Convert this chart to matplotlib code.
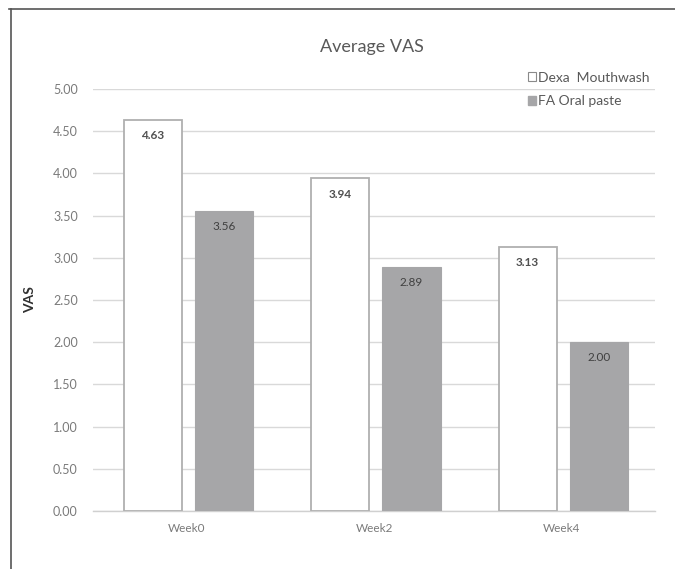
import matplotlib
matplotlib.use("Agg")
import matplotlib.pyplot as plt
from matplotlib.patches import Patch
from matplotlib.lines import Line2D
import numpy as np

categories = ["Week0", "Week2", "Week4"]
dexa_values = [4.63, 3.94, 3.13]
fa_values = [3.56, 2.89, 2.00]
series_names = ["Dexa  Mouthwash", "FA Oral paste"]
y_ticks = [0.0, 0.5, 1.0, 1.5, 2.0, 2.5, 3.0, 3.5, 4.0, 4.5, 5.0]

plt.rcParams["font.family"] = ["Lato", "DejaVu Sans"]

W, H = 675, 569
fig = plt.figure(figsize=(W / 100, H / 100), dpi=100)
fig.patch.set_facecolor("white")

ax = fig.add_axes([93 / W, 1 - 511 / H, (655 - 93) / W, (511 - 89) / H])
ax.set_facecolor("white")

x = np.arange(len(categories))
bw = 0.31
text_col = "#595959"
edge_col = "#b0b0b0"
gray_fill = "#a6a6a8"

ax.bar(x - 0.18, dexa_values, bw, color="white", edgecolor=edge_col, linewidth=1.3, zorder=3)
ax.bar(x + 0.20, fa_values, bw, color=gray_fill, edgecolor=gray_fill, linewidth=0.8, zorder=3)

for xi, v in zip(x - 0.18, dexa_values):
    ax.text(xi, v - 0.12, f"{v:.2f}", ha="center", va="top", fontsize=8.5,
            fontweight="bold", color="#505050", zorder=4)
for xi, v in zip(x + 0.20, fa_values):
    ax.text(xi, v - 0.12, f"{v:.2f}", ha="center", va="top", fontsize=8.5,
            color="#404040", zorder=4)

ax.set_xlim(-0.5, 2.5)
ax.set_ylim(0, 5.0)
ax.set_yticks(y_ticks)
ax.set_yticklabels([f"{t:.2f}" for t in y_ticks], fontsize=9, color="#7a7a7a")
ax.set_xticks(x)
ax.set_xticklabels(categories, fontsize=8.5, color="#7a7a7a")
ax.tick_params(axis="both", length=0)
ax.tick_params(axis="y", pad=11)
ax.tick_params(axis="x", pad=9)

ax.grid(axis="y", color="#d9d9d9", linewidth=1.0, zorder=0)
for s in ["top", "right", "left"]:
    ax.spines[s].set_visible(False)
ax.spines["bottom"].set_color("#d0d0d0")
ax.spines["bottom"].set_linewidth(1.0)

ax.set_ylabel("VAS", fontsize=10, fontweight="bold", color="#303030", labelpad=12)

fig.text(372 / W, 1 - 47 / H, "Average VAS", ha="center", va="center",
         fontsize=13, color=text_col)

handles = [
    Patch(facecolor="white", edgecolor="#8a8a8a", linewidth=0.8),
    Patch(facecolor=gray_fill, edgecolor=gray_fill),
]
leg = ax.legend(handles, series_names, loc="upper right",
                bbox_to_anchor=(655 / W, 1 - 66 / H), bbox_transform=fig.transFigure,
                frameon=False, fontsize=10, handlelength=0.6, handleheight=0.6,
                handletextpad=0.15, labelspacing=0.85, borderaxespad=0)
for t in leg.get_texts():
    t.set_color(text_col)

# outer frame lines
fig.add_artist(Line2D([9 / W, 1.0], [1 - 9 / H, 1 - 9 / H], transform=fig.transFigure,
                      color="#555555", linewidth=1.2))
fig.add_artist(Line2D([11 / W, 11 / W], [0.0, 1 - 9 / H], transform=fig.transFigure,
                      color="#555555", linewidth=1.2))

fig.savefig("out.png", dpi=100, facecolor="white")
